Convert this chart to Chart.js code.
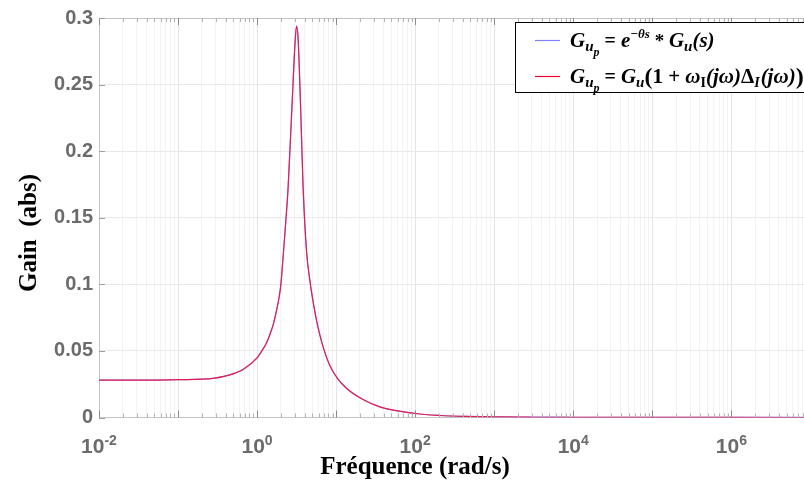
<!DOCTYPE html>
<html>
<head>
<meta charset="utf-8">
<script src="https://cdn.jsdelivr.net/npm/chart.js@4.4.1/dist/chart.umd.min.js"></script>
<style>
  html, body { margin: 0; padding: 0; background: #ffffff; }
  #wrap { width: 804px; height: 485px; position: relative; }
</style>
</head>
<body>
<div id="wrap"><canvas id="c" width="804" height="485"></canvas></div>
<script>
// ---- data ----
const frequencies = [0.01, 0.0316, 0.1, 0.277, 0.452, 0.665, 1.0, 1.147, 1.315, 1.445, 1.596, 1.72, 1.883, 2.0, 2.13, 2.30, 2.47, 2.77, 3.0, 3.155, 3.30, 3.54, 3.82, 4.22, 4.65, 5.25, 5.65, 6.22, 6.84, 8.32, 10.5, 13.5, 21.9, 35.7, 100, 204, 500, 1000, 3162, 1e4, 1e5, 1e6, 8.3e6];
const gainDelay = [0.028, 0.028, 0.0284, 0.0294, 0.032, 0.036, 0.0447, 0.050, 0.056, 0.062, 0.0696, 0.0775, 0.089, 0.100, 0.120, 0.146, 0.173, 0.235, 0.278, 0.294, 0.285, 0.236, 0.173, 0.125, 0.103, 0.083, 0.073, 0.062, 0.053, 0.039, 0.029, 0.022, 0.0135, 0.008, 0.003, 0.0015, 0.0008, 0.0005, 0.0003, 0.0002, 0.0001, 0.00005, 0.00002];
const gainUncertain = [0.028, 0.028, 0.0284, 0.0294, 0.032, 0.036, 0.0447, 0.050, 0.056, 0.062, 0.0696, 0.0775, 0.089, 0.100, 0.120, 0.146, 0.173, 0.235, 0.278, 0.294, 0.285, 0.236, 0.173, 0.125, 0.103, 0.083, 0.073, 0.062, 0.053, 0.039, 0.029, 0.022, 0.0135, 0.008, 0.003, 0.0015, 0.0007, 0.0004, 0.0002, 0.0001, 0.00005, 0.00002, 0.00001];
const xTickExponents = [-2, 0, 2, 4, 6];
const yTickValues = [0, 0.05, 0.1, 0.15, 0.2, 0.25, 0.3];
const xMin = 0.01, xMax = 8.3e6;

const GRAY_TXT = '#6b6b6b';
const toPts = (xs, ys) => xs.map((x, i) => ({ x: x, y: ys[i] }));

function drawRuns(ctx, x, y, runs) {
  for (const r of runs) {
    ctx.font = r.f;
    ctx.fillText(r.t, x, y + (r.dy || 0));
    x += ctx.measureText(r.t).width + (r.sp || 0);
  }
  return x;
}

const overlay = {
  id: 'overlay',
  afterDraw(chart) {
    const ctx = chart.ctx;
    const a = chart.chartArea;
    const xs = chart.scales.x, ys = chart.scales.y;
    ctx.save();
    // box top line
    ctx.strokeStyle = '#c4c4c4';
    ctx.lineWidth = 1;
    ctx.beginPath();
    ctx.moveTo(a.left, Math.round(a.top) + 0.5);
    ctx.lineTo(a.right, Math.round(a.top) + 0.5);
    ctx.stroke();
    // inner tick marks on bottom/top
    for (let e = -2; e <= 6; e++) {
      for (let m = 1; m <= 9; m++) {
        const v = m * Math.pow(10, e);
        if (v < xMin || v > xMax) continue;
        const px = Math.round(xs.getPixelForValue(v)) + 0.5;
        const len = m === 1 ? 7 : 4;
        ctx.strokeStyle = m === 1 ? '#8a8a8a' : '#b4b4b4';
        ctx.beginPath();
        ctx.moveTo(px, a.bottom); ctx.lineTo(px, a.bottom - len);
        ctx.moveTo(px, a.top); ctx.lineTo(px, a.top + len);
        ctx.stroke();
      }
    }
    // left ticks
    ctx.strokeStyle = '#a0a0a0';
    for (const v of yTickValues) {
      const py = Math.round(ys.getPixelForValue(v)) + 0.5;
      ctx.beginPath();
      ctx.moveTo(a.left, py); ctx.lineTo(a.left + 6, py);
      ctx.stroke();
    }
    // x tick labels 10^n
    ctx.fillStyle = GRAY_TXT;
    ctx.textBaseline = 'alphabetic';
    ctx.textAlign = 'left';
    for (const e of xTickExponents) {
      const px = xs.getPixelForValue(Math.pow(10, e));
      ctx.font = 'bold 21px "Liberation Sans", Arial, sans-serif';
      const wb = ctx.measureText('10').width;
      ctx.font = 'bold 14px "Liberation Sans", Arial, sans-serif';
      const ex = String(e);
      const we = ctx.measureText(ex).width;
      const x0 = px - (wb + we) / 2;
      ctx.font = 'bold 21px "Liberation Sans", Arial, sans-serif';
      ctx.fillText('10', x0, 453);
      ctx.font = 'bold 14px "Liberation Sans", Arial, sans-serif';
      ctx.fillText(ex, x0 + wb, 445);
    }
    // axis titles
    ctx.fillStyle = '#000';
    ctx.font = 'bold 25px "Liberation Serif", "Times New Roman", serif';
    ctx.textAlign = 'center';
    ctx.fillText('Fréquence (rad/s)', 415, 474);
    ctx.save();
    ctx.translate(36, 233);
    ctx.rotate(-Math.PI / 2);
    ctx.fillText('Gain  (abs)', 0, 0);
    ctx.restore();

    // legend
    const lx = 515.5, ly = 22.5, lw = 300, lh = 70;
    ctx.fillStyle = '#fff';
    ctx.fillRect(lx, ly, lw, lh);
    ctx.strokeStyle = '#000';
    ctx.lineWidth = 1;
    ctx.strokeRect(lx, ly, lw, lh);
    ctx.lineWidth = 1.2;
    ctx.strokeStyle = '#8080ff';
    ctx.beginPath(); ctx.moveTo(535, 40.5); ctx.lineTo(560, 40.5); ctx.stroke();
    ctx.strokeStyle = '#f0002a';
    ctx.beginPath(); ctx.moveTo(535, 76.5); ctx.lineTo(560, 76.5); ctx.stroke();

    ctx.fillStyle = '#000';
    ctx.textAlign = 'left';
    const SERIF = '"Liberation Serif", "Times New Roman", serif';
    const BI = s => 'italic bold ' + s + 'px ' + SERIF;
    const B = s => 'bold ' + s + 'px ' + SERIF;
    drawRuns(ctx, 570, 47, [
      { t: 'G', f: BI(21) }, { t: 'u', f: BI(15), dy: 4 }, { t: 'p', f: BI(12), dy: 9 },
      { t: ' = ', f: B(20) },
      { t: 'e', f: BI(21) }, { t: '\u2212\u03B8s', f: BI(13), dy: -9 },
      { t: ' * ', f: B(19) },
      { t: 'G', f: BI(21) }, { t: 'u', f: BI(15), dy: 4 },
      { t: '(s)', f: BI(21) }
    ]);
    drawRuns(ctx, 570, 83, [
      { t: 'G', f: BI(21) }, { t: 'u', f: BI(15), dy: 4 }, { t: 'p', f: BI(12), dy: 9 },
      { t: ' = ', f: B(20) },
      { t: 'G', f: BI(21) }, { t: 'u', f: BI(15), dy: 4 },
      { t: '(', f: B(24), dy: 1 },
      { t: '1 + ', f: B(21) },
      { t: '\u03C9', f: BI(21) }, { t: 'I', f: B(14), dy: 4 },
      { t: '(j\u03C9)', f: BI(21) },
      { t: '\u0394', f: B(21) }, { t: 'I', f: BI(14), dy: 4, sp: 1 },
      { t: '(j\u03C9)', f: BI(21) },
      { t: ')', f: B(24), dy: 1 }
    ]);
    ctx.restore();
  }
};

new Chart(document.getElementById('c'), {
  type: 'line',
  data: {
    datasets: [
      {
        label: 'Gup = e^-θs * Gu(s)',
        data: toPts(frequencies, gainDelay),
        borderColor: '#8080ff',
        borderWidth: 1.2,
        pointRadius: 0,
        cubicInterpolationMode: 'monotone',
        order: 1
      },
      {
        label: 'Gup = Gu(1 + ωI(jω)ΔI(jω))',
        data: toPts(frequencies, gainUncertain),
        borderColor: 'rgba(245,10,50,0.85)',
        borderWidth: 1.2,
        pointRadius: 0,
        cubicInterpolationMode: 'monotone',
        order: 0
      }
    ]
  },
  options: {
    responsive: false,
    animation: false,
    events: [],
    layout: { padding: { top: 17, right: 0, left: 0, bottom: 0 } },
    plugins: { legend: { display: false }, tooltip: { enabled: false } },
    scales: {
      x: {
        type: 'logarithmic',
        min: xMin,
        max: xMax,
        afterFit: s => { s.height = 67.5; },
        afterBuildTicks: s => {
          const t = [];
          for (let e = -2; e <= 6; e++) {
            for (let m = 1; m <= 9; m++) {
              const v = m * Math.pow(10, e);
              if (v >= xMin && v <= xMax) t.push({ value: v, major: m === 1 });
            }
          }
          s.ticks = t;
        },
        ticks: { display: false, autoSkip: false },
        grid: {
          drawTicks: false,
          color: c => (c.tick && c.tick.major) ? '#e4e4e4' : '#f3f3f3',
          lineWidth: 1
        },
        border: { color: '#c4c4c4' }
      },
      y: {
        min: 0,
        max: 0.3,
        afterFit: s => { s.width = 99; },
        afterBuildTicks: s => { s.ticks = yTickValues.map(v => ({ value: v })); },
        ticks: {
          padding: 6,
          color: GRAY_TXT,
          font: { family: '"Liberation Sans", Arial, sans-serif', size: 20, weight: 'bold' },
          callback: v => String(parseFloat(Number(v).toFixed(2)))
        },
        grid: { drawTicks: false, color: '#e8e8e8' },
        border: { color: '#c4c4c4' }
      }
    }
  },
  plugins: [overlay]
});
</script>
</body>
</html>
